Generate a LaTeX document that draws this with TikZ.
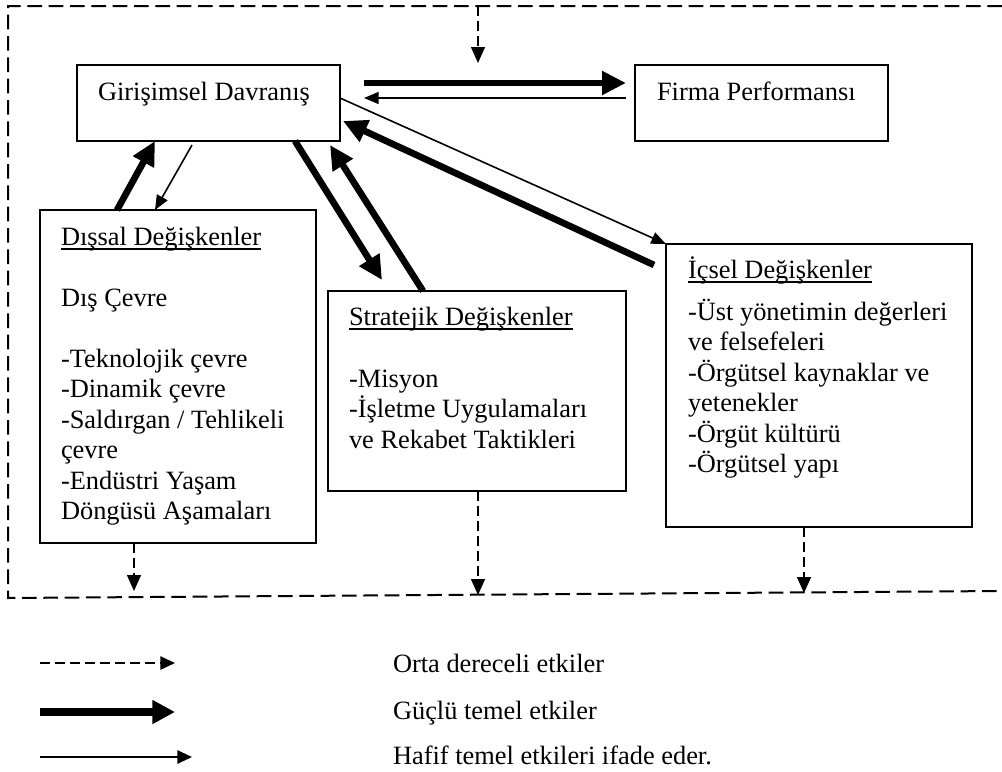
\documentclass[tikz,border=0pt]{standalone}
\usepackage{fontspec}
\setmainfont{Liberation Serif}
\usetikzlibrary{arrows.meta,calc}
\begin{document}
\begin{tikzpicture}[x=0.75pt,y=-0.75pt,
  box/.style={draw,line width=1.3pt,rectangle,inner sep=0pt,outer sep=0pt,anchor=north west},
  lbl/.style={inner sep=0pt,outer sep=0pt,anchor=base west,font=\fontsize{19.8pt}{22.9pt}\selectfont},
  uline/.style={line width=1pt},
  strong/.style={line width=5pt,-{Triangle[length=18pt,width=17pt]}},
  weak/.style={line width=1.2pt,-{Triangle[length=11pt,width=9pt]}},
  moderate/.style={line width=1.1pt,dash pattern=on 7.5pt off 3.75pt,-{Triangle[length=12pt,width=10.5pt]}},
  frame/.style={line width=1.5pt,dash pattern=on 11pt off 5pt},
]
\useasboundingbox (0,0) rectangle (1002,771);

% outer dashed frame
\draw[frame] (1002,6) -- (8,6) -- (8,598) -- (1002,591);

% boxes
\node[box,minimum width=263*0.75pt,minimum height=76*0.75pt] (gd) at (77,65) {};
\node[box,minimum width=253*0.75pt,minimum height=76*0.75pt] (fp) at (635,65) {};
\node[box,minimum width=276*0.75pt,minimum height=333*0.75pt] (ds) at (40,210) {};
\node[box,minimum width=298*0.75pt,minimum height=200*0.75pt] (st) at (328,291) {};
\node[box,minimum width=306*0.75pt,minimum height=283*0.75pt] (ic) at (666,244) {};

% texts
\node[lbl] (gdt) at (98,100) {Girişimsel Davranış};
\node[lbl] (fpt) at (657,100) {Firma Performansı};

\node[lbl] (dst) at (61,245) {Dışsal Değişkenler};
\node[lbl] (dsb) at (61,306) {\parbox[t]{260pt}{\raggedright
  Dış Çevre\\[22.9pt]
  -Teknolojik çevre\\
  -Dinamik çevre\\
  -Saldırgan / Tehlikeli\\
  çevre\\
  -Endüstri Yaşam\\
  Döngüsü Aşamaları}};

\node[lbl] (stt) at (349,325) {Stratejik Değişkenler};
\node[lbl] (stb) at (349,387) {\parbox[t]{260pt}{\raggedright
  -Misyon\\
  -İşletme Uygulamaları\\
  ve Rekabet Taktikleri}};

\node[lbl] (ict) at (688,278) {İçsel Değişkenler};
\node[lbl] (icb) at (688,320) {\parbox[t]{260pt}{\raggedright
  -Üst yönetimin değerleri\\
  ve felsefeleri\\
  -Örgütsel kaynaklar ve\\
  yetenekler\\
  -Örgüt kültürü\\
  -Örgütsel yapı}};

% underlined headings
\foreach \t in {dst,stt,ict}
  \draw[uline] ($(\t.base west)+(0,4)$) -- ($(\t.base east)+(0,4)$);

% connectors
\draw[strong] ($(gd.north east)+(24,18)$) -- ($(fp.north west)+(-9,18)$);
\draw[weak]   ($(fp.north west)+(-9,33)$) -- ($(gd.north east)+(24,33)$);
\draw[strong] ($(ds.north west)+(77,0)$) -- ($(gd.south west)+(78,0)$);
\draw[weak]   ($(gd.south west)+(115,4)$) -- ($(ds.north west)+(115,0)$);
\draw[strong] ($(gd.south west)+(218,0)$) -- ($(st.north west)+(54,-11)$);
\draw[strong] ($(st.north west)+(95,0)$) -- ($(gd.south east)+(-10,4)$);
\draw[weak]   ($(gd.north east)+(0,33)$) -- (ic.north west);
\draw[strong] ($(ic.north west)+(-12,21)$) -- ($(gd.south east)+(3,-20)$);

% dashed influences
\coordinate (topA) at (478,6);
\coordinate (topB) at (478,63);
\draw[moderate] (topA) -- (topB);
\coordinate (dsE) at (134,591);
\coordinate (stE) at (478,595);
\coordinate (icE) at (804,593);
\draw[moderate] ($(ds.south west)+(94,0)$) -- (dsE);
\draw[moderate] ($(st.south west)+(150,0)$) -- (stE);
\draw[moderate] ($(ic.south west)+(138,0)$) -- (icE);

% legend
\coordinate (l1a) at (40,663);  \coordinate (l1b) at (175,663);
\coordinate (l2a) at (40,712);  \coordinate (l2b) at (175,712);
\coordinate (l3a) at (40,757);  \coordinate (l3b) at (192,757);
\draw[line width=1.1pt,dash pattern=on 7.5pt off 3.75pt,-{Triangle[length=11pt,width=10pt]}] (l1a) -- (l1b);
\draw[line width=6pt,-{Triangle[length=17pt,width=17pt]}] (l2a) -- (l2b);
\draw[line width=1.5pt,-{Triangle[length=11pt,width=10pt]}] (l3a) -- (l3b);
\node[lbl] (lt1) at (393,672) {Orta dereceli etkiler};
\node[lbl] (lt2) at (393,719) {Güçlü temel etkiler};
\node[lbl] (lt3) at (393,764) {Hafif temel etkileri ifade eder.};
\end{tikzpicture}
\end{document}
